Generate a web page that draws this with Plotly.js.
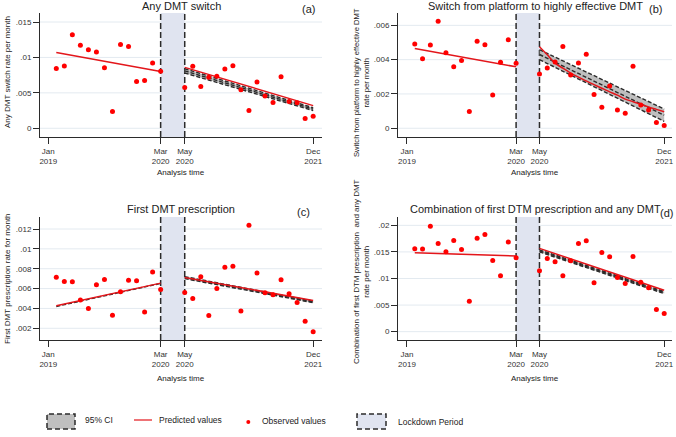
<!DOCTYPE html>
<html>
<head>
<meta charset="utf-8">
<script src="https://cdn.plot.ly/plotly-3.0.1.min.js"></script>
<style>
  html, body { margin: 0; padding: 0; background: #fff; }
  #chart { width: 676px; height: 437px; }
</style>
</head>
<body>
<div id="chart"></div>
<script>
// analysis time: Jan 2019 = 0, lockdown 14..17, Dec 2021 = 33
const tObs = [1, 2, 3, 4, 5, 6, 7, 8, 9, 10, 11, 12, 13, 14,
              17, 18, 19, 20, 21, 22, 23, 24, 25, 26, 27, 28, 29, 30, 31, 32, 33];
const tPost = [17, 18, 19, 20, 21, 22, 23, 24, 25, 26, 27, 28, 29, 30, 31, 32, 33];
const tPreEnds = [1, 14];
const tPostEnds = [17, 33];
const xTickVals = [0, 14, 17, 33];
const xTickText = ['Jan<br>2019', 'Mar<br>2020', 'May<br>2020', 'Dec<br>2021'];
const lockdown = [14, 17];

// (a) Any DMT switch
const aObs = [0.00842, 0.0088, 0.0132, 0.01173, 0.01107, 0.01078, 0.00856, 0.00237, 0.01183, 0.01154, 0.00662, 0.00676, 0.00922, 0.00804,
              0.00577, 0.00875, 0.00591, 0.00719, 0.00733, 0.00837, 0.00884, 0.00544, 0.00251, 0.00653, 0.00454, 0.00364, 0.00728, 0.00378, 0.0036, 0.00137, 0.0017];
const aPredPre = [0.0107, 0.0080];
const aPredPost = [0.0086, 0.0032];
const aCiLo = [0.0078, 0.0025];
const aCiMid = [0.0081, 0.0027];
const aCiHi = [0.0084, 0.0029];
const aTicks = [0, 0.005, 0.01, 0.015];
const aTickText = ['0', '.005', '.01', '.015'];

// (b) Switch from platform to highly effective DMT
const bObs = [0.00491, 0.00405, 0.00485, 0.00624, 0.0044, 0.00358, 0.00395, 0.00098, 0.00508, 0.00487, 0.00194, 0.00385, 0.00516, 0.00379,
              0.00317, 0.00352, 0.00387, 0.00477, 0.00311, 0.00381, 0.00432, 0.00197, 0.00123, 0.00246, 0.00106, 0.00088, 0.00362, 0.00135, 0.00106, 0.00033, 0.00016];
const bPredPre = [0.00465, 0.00358];
const bPredPost = [0.00475, 0.00428, 0.00380, 0.00350, 0.00322, 0.00298, 0.00276, 0.00254, 0.00233, 0.00212, 0.00193, 0.00170, 0.00155, 0.00140, 0.00124, 0.00110, 0.00096];
const bCiLo = [0.00400, 0.00040];
const bCiMid = [0.00430, 0.00076];
const bCiHi = [0.00458, 0.00112];
const bTicks = [0, 0.002, 0.004, 0.006];
const bTickText = ['0', '.002', '.004', '.006'];

// (c) First DMT prescription
const cObs = [0.00715, 0.00671, 0.00668, 0.00486, 0.00399, 0.00638, 0.00692, 0.00331, 0.00567, 0.00685, 0.00678, 0.00365, 0.00766, 0.0059,
              0.0056, 0.005, 0.00719, 0.00328, 0.00601, 0.00816, 0.00826, 0.00375, 0.01237, 0.00756, 0.00557, 0.00537, 0.00688, 0.00547, 0.00459, 0.00271, 0.00166];
const cPredPre = [0.00426, 0.00655];
const cPredPost = [0.00712, 0.0048];
const cCiPreMid = [0.0042, 0.00652];
const cCiLo = [0.0070, 0.00458];
const cCiMid = [0.0071, 0.00466];
const cCiHi = [0.0072, 0.00474];
const cTicks = [0.002, 0.004, 0.006, 0.008, 0.01, 0.012];
const cTickText = ['.002', '.004', '.006', '.008', '.01', '.012'];

// (d) Combination of first DTM prescription and any DMT
const dObs = [0.0156, 0.01554, 0.01981, 0.0166, 0.01503, 0.01717, 0.01547, 0.00572, 0.01755, 0.0183, 0.0134, 0.0105, 0.01686, 0.0139,
              0.01145, 0.01377, 0.01315, 0.0105, 0.01333, 0.0166, 0.01711, 0.00918, 0.01491, 0.01409, 0.01019, 0.00906, 0.01415, 0.00931, 0.00824, 0.00415, 0.0034];
const dPredPre = [0.01484, 0.01422];
const dPredPost = [0.01566, 0.0078];
const dCiLo = [0.0150, 0.00716];
const dCiMid = [0.0152, 0.00736];
const dCiHi = [0.0154, 0.00756];
const dTicks = [0, 0.005, 0.01, 0.015, 0.02];
const dTickText = ['0', '.005', '.01', '.015', '.02'];

// ---- styling ----
const RED = '#e3161b';
const DARK = '#2b2b2b';
const GRID = '#e3eaf0';
const FONT = 'Liberation Sans, Arial, sans-serif';
const W = 676, H = 437;
function px(x) { return x / W; }
function py(y) { return 1 - y / H; }

let traces = [];

function dashed(x, y, xa, ya, extra) {
    return Object.assign({
        x: x, y: y, xaxis: xa, yaxis: ya, mode: 'lines',
        line: { color: DARK, width: 1.4, dash: '4px,2px' },
        hoverinfo: 'skip', showlegend: false
    }, extra || {});
}

function addPanel(xa, ya, obs, predPre, tPost_, predPost, ciLo, ciMid, ciHi) {
    // confidence band
    traces.push(dashed(tPostEnds, ciLo, xa, ya));
    traces.push(dashed(tPostEnds, ciHi, xa, ya, { fill: 'tonexty', fillcolor: 'rgba(170,170,170,0.75)' }));
    traces.push(dashed(tPostEnds, ciMid, xa, ya));
    // predicted
    traces.push({ x: tPreEnds, y: predPre, xaxis: xa, yaxis: ya, mode: 'lines',
        line: { color: RED, width: 1.5 }, hoverinfo: 'skip', showlegend: false });
    traces.push({ x: tPost_, y: predPost, xaxis: xa, yaxis: ya, mode: 'lines',
        line: { color: RED, width: 1.5, shape: 'spline', smoothing: 0.6 }, hoverinfo: 'skip', showlegend: false });
    // observed
    traces.push({ x: tObs, y: obs, xaxis: xa, yaxis: ya, mode: 'markers',
        marker: { color: '#ff0000', size: 5 }, hoverinfo: 'x+y', showlegend: false });
}

traces.push(dashed(tPreEnds, cCiPreMid, 'x3', 'y3'));
addPanel('x', 'y', aObs, aPredPre, tPostEnds, aPredPost, aCiLo, aCiMid, aCiHi);
addPanel('x2', 'y2', bObs, bPredPre, tPost, bPredPost, bCiLo, bCiMid, bCiHi);
addPanel('x3', 'y3', cObs, cPredPre, tPostEnds, cPredPost, cCiLo, cCiMid, cCiHi);
addPanel('x4', 'y4', dObs, dPredPre, tPostEnds, dPredPost, dCiLo, dCiMid, dCiHi);

function xAxis(domain, range, anchor) {
    return {
        domain: domain, range: range, anchor: anchor,
        tickmode: 'array', tickvals: xTickVals, ticktext: xTickText,
        showline: true, linecolor: DARK, linewidth: 1,
        ticks: 'outside', ticklen: 6, tickcolor: DARK, tickwidth: 1,
        showgrid: false, zeroline: false, automargin: false,
        tickfont: { family: FONT, size: 8, color: '#333' }
    };
}
function yAxis(domain, range, anchor, vals, text) {
    return {
        domain: domain, range: range, anchor: anchor,
        tickmode: 'array', tickvals: vals, ticktext: text,
        showline: true, linecolor: DARK, linewidth: 1,
        ticks: 'outside', ticklen: 6, tickcolor: DARK, tickwidth: 1,
        showgrid: false, zeroline: false, automargin: false,
        tickfont: { family: FONT, size: 8, color: '#333' }
    };
}

const topRow = [py(137), py(13)];
const botRow = [py(340), py(217)];
const leftCol = [px(40), px(322)];
const rightCol = [px(398), px(672)];

let shapes = [];
// gridlines first, then lockdown band on top of them, all below the data
[['x', 'y', aTicks], ['x2', 'y2', bTicks], ['x3', 'y3', cTicks], ['x4', 'y4', dTicks]].forEach(function (p) {
    p[2].forEach(function (v) {
        shapes.push({ type: 'line', xref: p[0] + ' domain', yref: p[1], x0: 0, x1: 1, y0: v, y1: v,
            line: { color: GRID, width: 1 }, layer: 'below' });
    });
});
[['x', 'y'], ['x2', 'y2'], ['x3', 'y3'], ['x4', 'y4']].forEach(function (p) {
    shapes.push({ type: 'rect', xref: p[0], yref: p[1] + ' domain', x0: lockdown[0], x1: lockdown[1], y0: 0, y1: 1,
        fillcolor: '#e0e4f0', line: { width: 0 }, layer: 'below' });
    lockdown.forEach(function (t) {
        shapes.push({ type: 'line', xref: p[0], yref: p[1] + ' domain', x0: t, x1: t, y0: 0, y1: 1,
            line: { color: DARK, width: 1.5, dash: '6px,3px' }, layer: 'below' });
    });
});

// legend drawn by hand
shapes.push({ type: 'rect', xref: 'paper', yref: 'paper', x0: px(47), x1: px(75), y0: py(429), y1: py(414),
    fillcolor: '#bfbfbf', line: { color: DARK, width: 1.5, dash: '5px,3px' } });
shapes.push({ type: 'line', xref: 'paper', yref: 'paper', x0: px(134), x1: px(152), y0: py(420), y1: py(420),
    line: { color: RED, width: 1.2 } });
shapes.push({ type: 'circle', xref: 'paper', yref: 'paper', x0: px(246.3), x1: px(250.3), y0: py(424), y1: py(420),
    fillcolor: '#ff0000', line: { width: 0 } });
shapes.push({ type: 'rect', xref: 'paper', yref: 'paper', x0: px(357), x1: px(386), y0: py(429), y1: py(414),
    fillcolor: '#e0e4f0', line: { color: DARK, width: 1.5, dash: '5px,3px' } });

function note(text, x, y, size, extra) {
    return Object.assign({
        text: text, xref: 'paper', yref: 'paper', x: px(x), y: py(y),
        showarrow: false, xanchor: 'center', yanchor: 'middle',
        font: { family: FONT, size: size, color: '#222' }
    }, extra || {});
}

const annotations = [
    note('Any DMT switch', 181, 6, 11),
    note('(a)', 308, 9.5, 11),
    note('Switch from platform to highly effective DMT', 535, 6, 11),
    note('(b)', 655, 9.5, 11),
    note('First DMT prescription', 181, 209, 11),
    note('(c)', 303, 212, 11),
    note('Combination of first DTM prescription and any DMT', 535, 209, 11),
    note('(d)', 666, 213, 11),
    note('Any DMT switch rate per month', 7, 72, 8, { textangle: -90 }),
    note('Switch from platform to highly effective DMT<br>rate per month', 362, 83, 7.6, { textangle: -90 }),
    note('First DMT prescription rate for month', 7, 279, 8, { textangle: -90 }),
    note('Combination of first DTM prescription  and any DMT<br>rate per month', 361, 272, 8, { textangle: -90 }),
    note('Analysis time', 181, 172, 8),
    note('Analysis time', 535, 172, 8),
    note('Analysis time', 181, 378, 8),
    note('Analysis time', 535, 378, 8),
    note('95% CI', 83, 420, 8.5, { xanchor: 'left' }),
    note('Predicted values', 157, 420, 8.5, { xanchor: 'left' }),
    note('Observed values', 260, 421, 8.5, { xanchor: 'left' }),
    note('Lockdown Period', 396, 422, 8.5, { xanchor: 'left' })
];

const layout = {
    width: W, height: H,
    margin: { l: 0, r: 0, t: 0, b: 0 },
    paper_bgcolor: '#fff', plot_bgcolor: '#fff',
    showlegend: false,
    font: { family: FONT, size: 8, color: '#333' },
    xaxis: xAxis(leftCol, [-1.03, 34.1], 'y'),
    yaxis: yAxis(topRow, [-0.00123, 0.01627], 'x', aTicks, aTickText),
    xaxis2: xAxis(rightCol, [-1.15, 34.0], 'y2'),
    yaxis2: yAxis(topRow, [-0.00051, 0.00672], 'x2', bTicks, bTickText),
    xaxis3: xAxis(leftCol, [-1.03, 34.1], 'y3'),
    yaxis3: yAxis(botRow, [0.00082, 0.01321], 'x3', cTicks, cTickText),
    xaxis4: xAxis(rightCol, [-1.15, 34.0], 'y4'),
    yaxis4: yAxis(botRow, [-0.00157, 0.02157], 'x4', dTicks, dTickText),
    shapes: shapes,
    annotations: annotations
};

Plotly.newPlot('chart', traces, layout, { displayModeBar: false, staticPlot: true });
</script>
</body>
</html>
